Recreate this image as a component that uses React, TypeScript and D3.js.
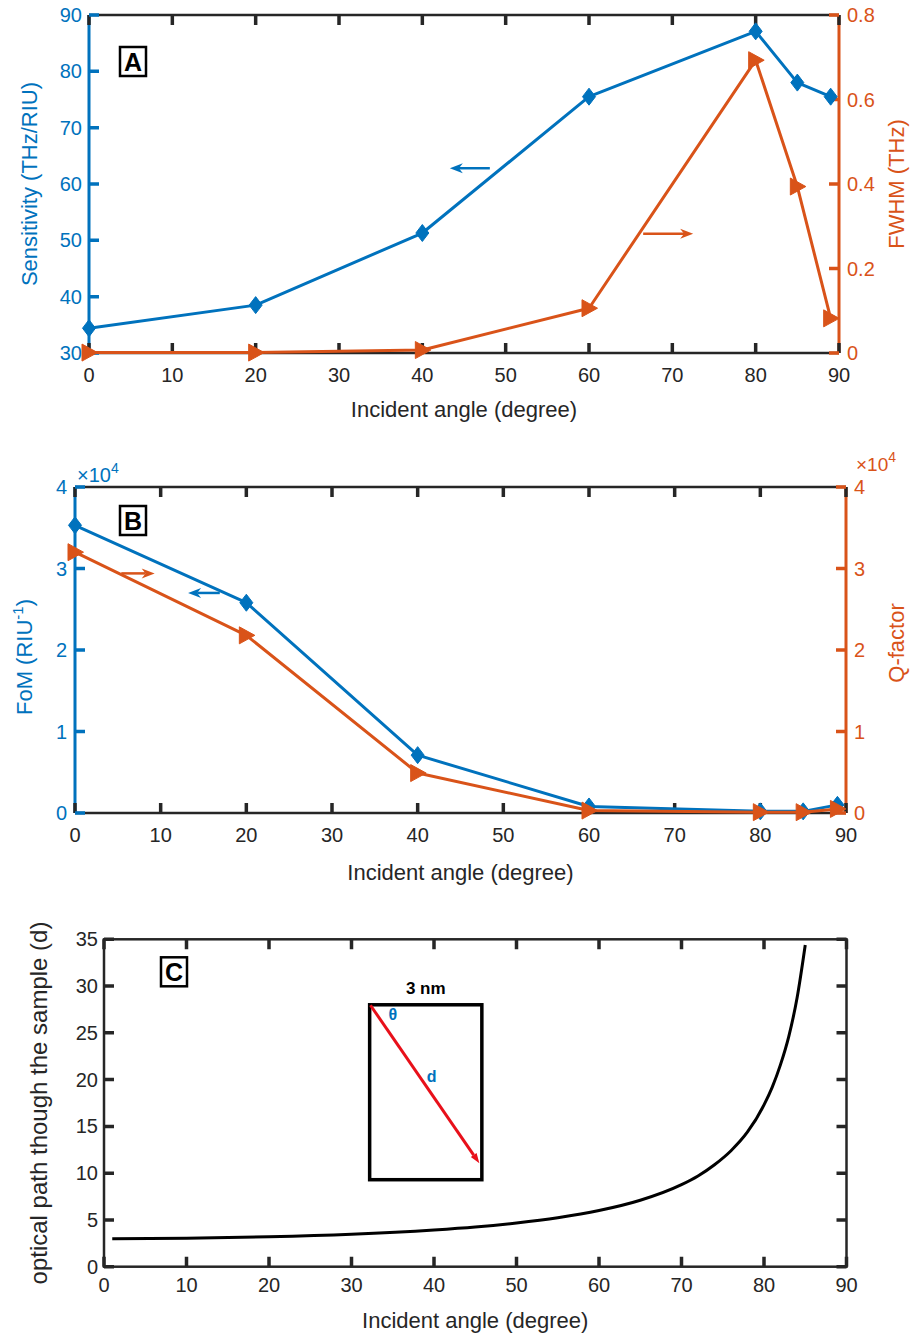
import React from 'react';
import * as d3 from 'd3';

const BLUE = '#0072BD';
const ORANGE = '#D95319';
const DARK = '#262626';
const FONT = '"Liberation Sans", Arial, Helvetica, sans-serif';

// panels A and B share the same incident angles
const angles = [0, 20, 40, 60, 80, 85, 89];
const sensitivity = [34.4, 38.5, 51.3, 75.5, 87.1, 78.0, 75.5];
const fwhm = [0.001, 0.001, 0.007, 0.106, 0.693, 0.394, 0.082];
const fom = [3.53, 2.58, 0.71, 0.08, 0.02, 0.02, 0.1]; // x10^4
const qFactor = [3.2, 2.18, 0.49, 0.03, 0.01, 0.01, 0.05]; // x10^4

// panel C
const pathAngles = [1, 10, 20, 30, 40, 45, 50, 55, 60, 65, 70, 72, 74, 76, 78, 80, 81, 82, 83, 84, 85];
const pathLength = [3.0, 3.05, 3.19, 3.46, 3.92, 4.24, 4.67, 5.23, 6.0, 7.1, 8.77, 9.7, 10.9, 12.4, 14.4, 17.3, 19.2, 21.6, 24.6, 28.7, 34.4];

const angleTicks = [0, 10, 20, 30, 40, 50, 60, 70, 80, 90];
const sensTicks = [30, 40, 50, 60, 70, 80, 90];
const fwhmTicks = [0, 0.2, 0.4, 0.6, 0.8];
const fomTicks = [0, 1, 2, 3, 4];
const qTicks = [0, 1, 2, 3, 4];
const pathTicks = [0, 5, 10, 15, 20, 25, 30, 35];

const X_LABEL = 'Incident angle (degree)';

// annotation anchors in data units
const arrowsA = [
    {x0: 48.1, x1: 43.3, y: 62.8, axis: 'left'},
    {x0: 66.5, x1: 72.5, y: 0.282, axis: 'right'}
];
const arrowsB = [
    {x0: 5.4, x1: 9.3, y: 2.94, axis: 'right'},
    {x0: 16.9, x1: 13.2, y: 2.7, axis: 'left'}
];
const inset = {x0: 32.2, x1: 45.8, y0: 9.3, y1: 28.0};
const ray = {x0: 32.3, y0: 27.95, x1: 45.5, y1: 11.05};

const diamond = 'M0,-8.5L6.5,0L0,8.5L-6.5,0Z';
const triRight = 'M-7,-8.5L8.5,0L-7,8.5Z';
const TICK = 10;

function Arrow({x0, x1, y, color}) {
    const dir = Math.sign(x1 - x0);
    const len = 13;
    const half = 5;
    const head = `M${x1},${y}L${x1 - dir * len},${y - half}L${x1 - dir * len * 0.7},${y}L${x1 - dir * len},${y + half}Z`;
    return (
        <g>
            <line x1={x0} y1={y} x2={x1 - dir * len * 0.7} y2={y} stroke={color} strokeWidth={2.5} />
            <path d={head} fill={color} />
        </g>
    );
}

function PanelTag({x, y, letter}) {
    return (
        <g>
            <rect x={x} y={y} width={26} height={29} fill="white" stroke="black" strokeWidth={2.5} />
            <text x={x + 13} y={y + 23.5} textAnchor="middle" fontSize={25} fontWeight="bold" fill="black">{letter}</text>
        </g>
    );
}

function XTicks({x, top, bottom, ticks, baseline, color = DARK}) {
    // inward ticks on the bottom and top edges
    const d = ticks.map((t) => `M${x(t)},${bottom}V${bottom - TICK}M${x(t)},${top}V${top + TICK}`).join('');
    return (
        <g>
            <path d={d} fill="none" stroke={color} strokeWidth={3.5} />
            {ticks.map((t) => (
                <text key={t} x={x(t)} y={baseline} textAnchor="middle" fontSize={20} fill={DARK}>{t}</text>
            ))}
        </g>
    );
}

function YTicks({y, axisX, side, ticks, color, labelColor, gap = 7, labels = true}) {
    const dir = side === 'left' ? 1 : -1;
    const d = ticks.map((t) => `M${axisX},${y(t)}H${axisX + dir * TICK}`).join('');
    return (
        <g>
            <path d={d} fill="none" stroke={color} strokeWidth={3.5} />
            {labels && ticks.map((t) => (
                <text key={t} x={side === 'left' ? axisX - gap : axisX + gap} y={y(t)} dy="0.35em"
                    textAnchor={side === 'left' ? 'end' : 'start'} fontSize={20} fill={labelColor}>{t}</text>
            ))}
        </g>
    );
}

function Series({x, y, values, color, marker}) {
    const line = d3.line<number>()
        .x((_, i) => x(angles[i]))
        .y((d) => y(d));
    return (
        <g>
            <path d={line(values) || ''} fill="none" stroke={color} strokeWidth={3} strokeLinejoin="round" />
            {values.map((v, i) => (
                <path key={i} d={marker} transform={`translate(${x(angles[i])},${y(v)})`} fill={color} stroke={color} strokeWidth={1} />
            ))}
        </g>
    );
}

function PanelA() {
    const left = 89, right = 839, top = 15, bottom = 353;
    const x = d3.scaleLinear().domain([0, 90]).range([left, right]);
    const yL = d3.scaleLinear().domain([30, 90]).range([bottom, top]);
    const yR = d3.scaleLinear().domain([0, 0.8]).range([bottom, top]);
    return (
        <g>
            <line x1={left} x2={right} y1={top} y2={top} stroke={DARK} strokeWidth={2.5} />
            <line x1={left} x2={right} y1={bottom} y2={bottom} stroke={DARK} strokeWidth={2.5} />
            <line x1={left} x2={left} y1={top} y2={bottom} stroke={BLUE} strokeWidth={3} />
            <line x1={right} x2={right} y1={top} y2={bottom} stroke={ORANGE} strokeWidth={3} />
            <XTicks x={x} top={top} bottom={bottom} ticks={angleTicks} baseline={382} />
            <YTicks y={yL} axisX={left} side="left" ticks={sensTicks} color={BLUE} labelColor={BLUE} />
            <YTicks y={yR} axisX={right} side="right" ticks={fwhmTicks} color={ORANGE} labelColor={ORANGE} gap={8} />

            <Series x={x} y={yL} values={sensitivity} color={BLUE} marker={diamond} />
            <Series x={x} y={yR} values={fwhm} color={ORANGE} marker={triRight} />

            {arrowsA.map((a, i) => (
                <Arrow key={i} x0={x(a.x0)} x1={x(a.x1)} y={a.axis === 'left' ? yL(a.y) : yR(a.y)}
                    color={a.axis === 'left' ? BLUE : ORANGE} />
            ))}
            <PanelTag x={left + 31} y={top + 32} letter="A" />

            <text transform={`translate(37,${(top + bottom) / 2}) rotate(-90)`} textAnchor="middle" fontSize={22} fill={BLUE}>
                Sensitivity (THz/RIU)
            </text>
            <text transform={`translate(904,${(top + bottom) / 2}) rotate(-90)`} textAnchor="middle" fontSize={22} fill={ORANGE}>
                FWHM (THz)
            </text>
            <text x={(left + right) / 2} y={417} textAnchor="middle" fontSize={22} fill={DARK}>{X_LABEL}</text>
        </g>
    );
}

function PanelB() {
    const left = 75, right = 846, top = 487, bottom = 813;
    const x = d3.scaleLinear().domain([0, 90]).range([left, right]);
    const yL = d3.scaleLinear().domain([0, 4]).range([bottom, top]);
    const yR = d3.scaleLinear().domain([0, 4]).range([bottom, top]);
    return (
        <g>
            <line x1={left} x2={right} y1={top} y2={top} stroke={DARK} strokeWidth={2.5} />
            <line x1={left} x2={right} y1={bottom} y2={bottom} stroke={DARK} strokeWidth={2.5} />
            <line x1={left} x2={left} y1={top} y2={bottom} stroke={BLUE} strokeWidth={3} />
            <line x1={right} x2={right} y1={top} y2={bottom} stroke={ORANGE} strokeWidth={3} />
            <XTicks x={x} top={top} bottom={bottom} ticks={angleTicks} baseline={842} />
            <YTicks y={yL} axisX={left} side="left" ticks={fomTicks} color={BLUE} labelColor={BLUE} gap={8} />
            <YTicks y={yR} axisX={right} side="right" ticks={qTicks} color={ORANGE} labelColor={ORANGE} gap={8} />

            <text x={left + 2} y={top - 5} fontSize={20} fill={BLUE}>
                ×10<tspan fontSize={14} dy={-9}>4</tspan>
            </text>
            <text x={right + 10} y={top - 16} fontSize={19} fill={ORANGE}>
                ×10<tspan fontSize={14} dy={-9}>4</tspan>
            </text>

            <Series x={x} y={yL} values={fom} color={BLUE} marker={diamond} />
            <Series x={x} y={yR} values={qFactor} color={ORANGE} marker={triRight} />

            {arrowsB.map((a, i) => (
                <Arrow key={i} x0={x(a.x0)} x1={x(a.x1)} y={a.axis === 'left' ? yL(a.y) : yR(a.y)}
                    color={a.axis === 'left' ? BLUE : ORANGE} />
            ))}
            <PanelTag x={left + 45} y={top + 19} letter="B" />

            <text transform={`translate(32,657) rotate(-90)`} textAnchor="middle" fontSize={22} fill={BLUE}>
                FoM (RIU<tspan fontSize={15} dy={-9}>-1</tspan><tspan dy={9}>)</tspan>
            </text>
            <text transform={`translate(904,643) rotate(-90)`} textAnchor="middle" fontSize={22} fill={ORANGE}>
                Q-factor
            </text>
            <text x={(left + right) / 2} y={880} textAnchor="middle" fontSize={22} fill={DARK}>{X_LABEL}</text>
        </g>
    );
}

function PanelC() {
    const left = 104, right = 846.5, top = 939.3, bottom = 1266.7;
    const x = d3.scaleLinear().domain([0, 90]).range([left, right]);
    const y = d3.scaleLinear().domain([0, 35]).range([bottom, top]);
    const curve = d3.line<number>()
        .x((_, i) => x(pathAngles[i]))
        .y((d) => y(d))
        .curve(d3.curveMonotoneX);

    const rx0 = x(ray.x0), ry0 = y(ray.y0), rx1 = x(ray.x1), ry1 = y(ray.y1);
    const ang = Math.atan2(ry1 - ry0, rx1 - rx0);
    const hl = 10, hw = 3.5;
    const bx = rx1 - hl * Math.cos(ang), by = ry1 - hl * Math.sin(ang);
    const head = `M${rx1},${ry1}L${bx - hw * Math.sin(ang)},${by + hw * Math.cos(ang)}L${bx + hw * Math.sin(ang)},${by - hw * Math.cos(ang)}Z`;

    return (
        <g>
            <rect x={left} y={top} width={right - left} height={bottom - top} fill="none" stroke={DARK} strokeWidth={2.5} />
            <XTicks x={x} top={top} bottom={bottom} ticks={angleTicks} baseline={1292} />
            <YTicks y={y} axisX={left} side="left" ticks={pathTicks} color={DARK} labelColor={DARK} gap={6} />
            <YTicks y={y} axisX={right} side="right" ticks={pathTicks} color={DARK} labelColor={DARK} labels={false} />

            <path d={curve(pathLength) || ''} fill="none" stroke="black" strokeWidth={3} />

            <rect x={x(inset.x0)} y={y(inset.y1)} width={x(inset.x1) - x(inset.x0)} height={y(inset.y0) - y(inset.y1)}
                fill="white" stroke="black" strokeWidth={3.5} />
            <line x1={rx0} y1={ry0} x2={bx} y2={by} stroke="#e8101a" strokeWidth={3} />
            <path d={head} fill="#e8101a" />
            <text x={(x(inset.x0) + x(inset.x1)) / 2} y={y(inset.y1) - 11} textAnchor="middle" fontSize={17} fontWeight="bold" fill="black">3 nm</text>
            <text x={x(35.0)} y={y(26.4)} textAnchor="middle" fontSize={16} fontWeight="bold" fill={BLUE}>θ</text>
            <text x={x(39.7)} y={y(19.7)} textAnchor="middle" fontSize={16} fontWeight="bold" fill={BLUE}>d</text>

            <PanelTag x={left + 57} y={top + 18} letter="C" />

            <text transform={`translate(47,${(top + bottom) / 2}) rotate(-90)`} textAnchor="middle" fontSize={24} fill={DARK}>
                optical path though the sample (d)
            </text>
            <text x={(left + right) / 2} y={1328} textAnchor="middle" fontSize={22} fill={DARK}>{X_LABEL}</text>
        </g>
    );
}

export default function App() {
    return (
        <svg width={915} height={1340} style={{position: 'absolute', left: 0, top: 0, background: 'white'}}
            fontFamily={FONT}>
            <rect width={915} height={1340} fill="white" />
            <PanelA />
            <PanelB />
            <PanelC />
        </svg>
    );
}
